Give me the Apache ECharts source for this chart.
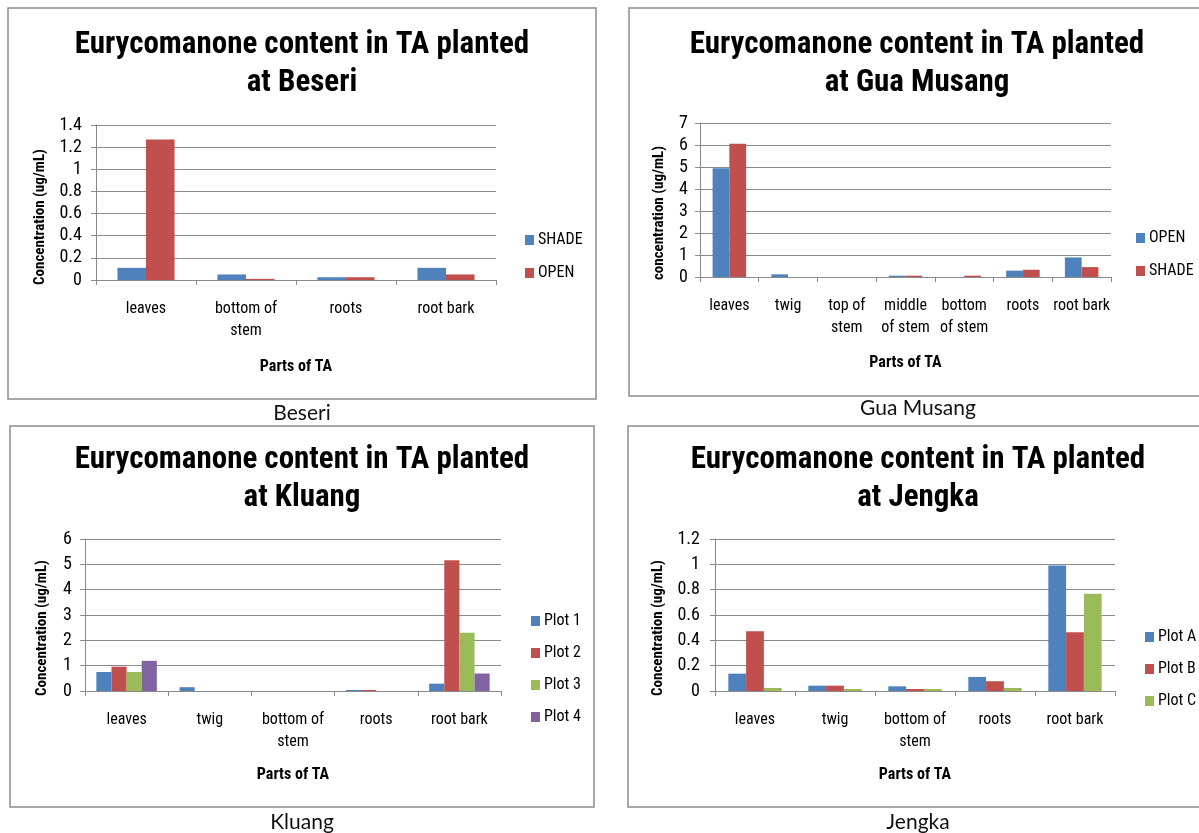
<!DOCTYPE html>
<html>
<head>
<meta charset="utf-8">
<title>Eurycomanone content in TA</title>
<script src="https://cdn.jsdelivr.net/npm/echarts@6/dist/echarts.min.js"></script>
<style>
  html, body { margin: 0; padding: 0; background: #ffffff; }
  #page { position: relative; width: 1199px; height: 833px; overflow: hidden; }
  .panel { position: absolute; }
</style>
</head>
<body>
<div id="page">
  <div class="panel" id="beseri" style="left:0;top:0;width:600px;height:430px"></div>
  <div class="panel" id="guamusang" style="left:600px;top:0;width:599px;height:430px"></div>
  <div class="panel" id="kluang" style="left:0;top:418px;width:600px;height:415px"></div>
  <div class="panel" id="jengka" style="left:600px;top:418px;width:599px;height:415px"></div>
</div>
<script>
// ---- data ----
const beseriCategories = ['leaves', 'bottom of\nstem', 'roots', 'root bark'];
const beseriShade = [0.11, 0.05, 0.025, 0.11];
const beseriOpen = [1.27, 0.01, 0.025, 0.05];
const beseriYMax = 1.4;
const beseriYStep = 0.2;

const guaMusangCategories = ['leaves', 'twig', 'top of\nstem', 'middle\nof stem', 'bottom\nof stem', 'roots', 'root bark'];
const guaMusangOpen = [4.94, 0.12, 0, 0.06, 0, 0.29, 0.89];
const guaMusangShade = [6.06, 0, 0, 0.06, 0.06, 0.33, 0.45];
const guaMusangYMax = 7;
const guaMusangYStep = 1;

const kluangCategories = ['leaves', 'twig', 'bottom of\nstem', 'roots', 'root bark'];
const kluangPlot1 = [0.75, 0.15, 0, 0.04, 0.29];
const kluangPlot2 = [0.96, 0, 0, 0.04, 5.16];
const kluangPlot3 = [0.75, 0, 0, 0, 2.3];
const kluangPlot4 = [1.19, 0, 0, 0, 0.69];
const kluangYMax = 6;
const kluangYStep = 1;

const jengkaCategories = ['leaves', 'twig', 'bottom of\nstem', 'roots', 'root bark'];
const jengkaPlotA = [0.137, 0.042, 0.037, 0.111, 0.99];
const jengkaPlotB = [0.472, 0.042, 0.016, 0.077, 0.464];
const jengkaPlotC = [0.024, 0.016, 0.016, 0.024, 0.768];
const jengkaYMax = 1.2;
const jengkaYStep = 0.2;

// ---- styling ----
const FONT = '"Liberation Sans Narrow", "Arial Narrow", "Roboto Condensed", Lato, "Liberation Sans", sans-serif';
const CAPTION_FONT = 'Lato, "Noto Sans", sans-serif';
const BLUE = '#4F81BD', RED = '#C0504D', GREEN = '#9BBB59', PURPLE = '#8064A2';
const LINE = '#8a8a8a';

// Builds one bordered chart panel; every position is given in page pixels
// and shifted by the panel origin (ox, oy).
function panelOption(p) {
  const ox = p.origin[0], oy = p.origin[1];
  const n = p.series.length;
  const gapPct = (1.5 / (n + 1.5) * 100).toFixed(1) + '%';
  return {
    animation: false,
    textStyle: { fontFamily: FONT },
    graphic: [
      { type: 'rect', silent: true,
        shape: { x: p.box[0] - ox, y: p.box[1] - oy, width: p.box[2], height: p.box[3] },
        style: { fill: 'none', stroke: '#8c8c8c', lineWidth: 1.5 } },
      { type: 'text', silent: true, x: p.titleX - ox, y: p.titleY - oy,
        style: { text: p.title, fontFamily: FONT, fontWeight: 'bold', fontSize: 31, lineHeight: 38,
                 textAlign: 'center', textVerticalAlign: 'top', fill: '#000' } },
      { type: 'text', silent: true, x: p.yNameX - ox, y: p.yNameY - oy, rotation: Math.PI / 2,
        style: { text: p.yName, fontFamily: FONT, fontWeight: 'bold', fontSize: 15,
                 textAlign: 'center', textVerticalAlign: 'middle', fill: '#000' } },
      { type: 'text', silent: true, x: p.captionX - ox, y: p.captionY - oy,
        style: { text: p.caption, fontFamily: CAPTION_FONT, fontSize: 21,
                 textAlign: 'center', textVerticalAlign: 'middle', fill: '#111' } }
    ],
    grid: {
      left: p.plot[0] - ox, top: p.plot[1] - oy,
      width: p.plot[2] - p.plot[0], height: p.plot[3] - p.plot[1],
      containLabel: false
    },
    legend: {
      orient: 'vertical', left: p.legendX - ox, top: p.legendY - oy,
      itemWidth: 9, itemHeight: 10, itemGap: p.legendGap, icon: 'rect',
      textStyle: { fontFamily: FONT, fontSize: 16, color: '#000', padding: [0, 0, 0, -1] },
      data: p.series.map(s => s.name)
    },
    xAxis: {
      type: 'category', data: p.categories,
      axisLine: { lineStyle: { color: LINE, width: 1 } },
      axisTick: { show: true, length: 5, lineStyle: { color: LINE } },
      axisLabel: { interval: 0, fontSize: 16, lineHeight: 22, color: '#000', margin: 18, fontFamily: FONT },
      name: 'Parts of TA', nameLocation: 'middle', nameGap: p.xNameGap,
      nameTextStyle: { fontFamily: FONT, fontWeight: 'bold', fontSize: 16, color: '#000' }
    },
    yAxis: {
      type: 'value', min: 0, max: p.yMax, interval: p.yStep,
      axisLine: { show: true, lineStyle: { color: LINE, width: 1 } },
      axisTick: { show: true, length: 5, lineStyle: { color: LINE } },
      axisLabel: { fontSize: 18, color: '#000', margin: p.yLabelMargin, fontFamily: FONT },
      splitLine: { show: true, lineStyle: { color: LINE, width: 1 } }
    },
    series: p.series.map(s => ({
      type: 'bar', name: s.name, data: s.data,
      barGap: '0%', barCategoryGap: gapPct,
      itemStyle: { color: s.color }
    }))
  };
}

const panels = [
  { el: 'beseri', origin: [0, 0],
    box: [8, 8, 588, 391],
    title: 'Eurycomanone content in TA planted\nat Beseri', titleX: 302, titleY: 26,
    caption: 'Beseri', captionX: 302, captionY: 413,
    yName: 'Concentration (ug/mL)', yNameX: 40, yNameY: 217,
    plot: [96, 125, 496, 280], yMax: beseriYMax, yStep: beseriYStep, yLabelMargin: 14,
    xNameGap: 79,
    legendX: 520, legendY: 227, legendGap: 17,
    categories: beseriCategories,
    series: [
      { name: 'SHADE', data: beseriShade, color: BLUE },
      { name: 'OPEN', data: beseriOpen, color: RED }
    ] },
  { el: 'guamusang', origin: [600, 0],
    box: [629, 8, 600, 388],
    title: 'Eurycomanone content in TA planted\nat Gua Musang', titleX: 917, titleY: 26,
    caption: 'Gua Musang', captionX: 918, captionY: 408,
    yName: 'concentration (ug/mL)', yNameX: 659, yNameY: 213,
    plot: [700, 123, 1111, 277], yMax: guaMusangYMax, yStep: guaMusangYStep, yLabelMargin: 12,
    xNameGap: 78,
    legendX: 1131, legendY: 225, legendGap: 17,
    categories: guaMusangCategories,
    series: [
      { name: 'OPEN', data: guaMusangOpen, color: BLUE },
      { name: 'SHADE', data: guaMusangShade, color: RED }
    ] },
  { el: 'kluang', origin: [0, 418],
    box: [10, 426, 584, 381],
    title: 'Eurycomanone content in TA planted\nat Kluang', titleX: 302, titleY: 441,
    caption: 'Kluang', captionX: 302, captionY: 822,
    yName: 'Concentration (ug/mL)', yNameX: 42, yNameY: 628,
    plot: [85, 539, 501, 691], yMax: kluangYMax, yStep: kluangYStep, yLabelMargin: 13,
    xNameGap: 76,
    legendX: 526, legendY: 608, legendGap: 16,
    categories: kluangCategories,
    series: [
      { name: 'Plot 1', data: kluangPlot1, color: BLUE },
      { name: 'Plot 2', data: kluangPlot2, color: RED },
      { name: 'Plot 3', data: kluangPlot3, color: GREEN },
      { name: 'Plot 4', data: kluangPlot4, color: PURPLE }
    ] },
  { el: 'jengka', origin: [600, 418],
    box: [628, 426, 600, 381],
    title: 'Eurycomanone content in TA planted\nat Jengka', titleX: 918, titleY: 441,
    caption: 'Jengka', captionX: 918, captionY: 822,
    yName: 'Concentration (ug/mL)', yNameX: 658, yNameY: 628,
    plot: [715, 539, 1115, 691], yMax: jengkaYMax, yStep: jengkaYStep, yLabelMargin: 15,
    xNameGap: 76,
    legendX: 1140, legendY: 624, legendGap: 16,
    categories: jengkaCategories,
    series: [
      { name: 'Plot A', data: jengkaPlotA, color: BLUE },
      { name: 'Plot B', data: jengkaPlotB, color: RED },
      { name: 'Plot C', data: jengkaPlotC, color: GREEN }
    ] }
];

panels.forEach(p => {
  const chart = echarts.init(document.getElementById(p.el), null, { renderer: 'canvas' });
  chart.setOption(panelOption(p));
});
</script>
</body>
</html>
